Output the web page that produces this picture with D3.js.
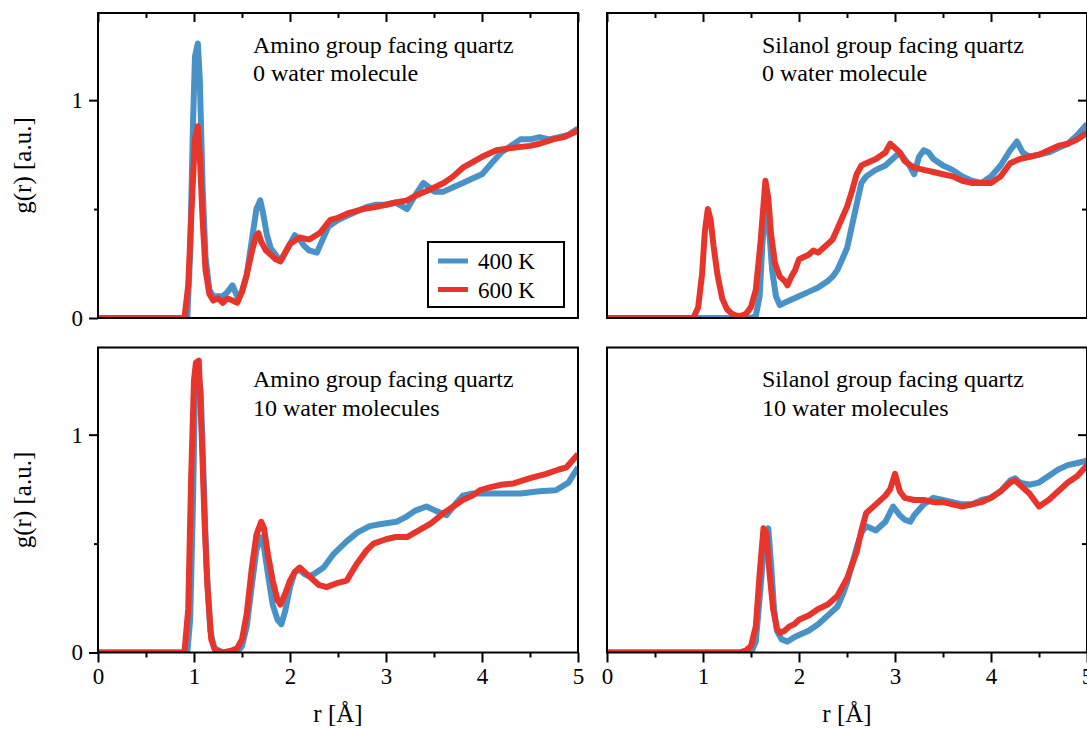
<!DOCTYPE html>
<html>
<head>
<meta charset="utf-8">
<script src="https://cdn.jsdelivr.net/npm/d3@7"></script>
<style>
  body { margin: 0; background: #fff; }
  text { font-family: "Liberation Serif", "Times New Roman", serif; fill: #000; }
</style>
</head>
<body>
<div id="chart"></div>
<script>
// g(r) curves, [r, g] pairs
var amino0_400 = [[0,0],[0.93,0],[0.96,0.3],[0.99,0.9],[1.01,1.2],[1.04,1.26],[1.06,1.1],[1.09,0.6],[1.12,0.28],[1.16,0.13],[1.2,0.1],[1.25,0.1],[1.3,0.1],[1.35,0.12],[1.4,0.15],[1.45,0.1],[1.5,0.12],[1.55,0.2],[1.6,0.35],[1.65,0.5],[1.69,0.54],[1.72,0.48],[1.76,0.38],[1.8,0.32],[1.85,0.29],[1.9,0.26],[1.95,0.3],[2.0,0.34],[2.05,0.38],[2.1,0.36],[2.15,0.33],[2.2,0.31],[2.28,0.3],[2.35,0.37],[2.4,0.42],[2.5,0.45],[2.6,0.47],[2.7,0.49],[2.8,0.51],[2.9,0.52],[3.0,0.52],[3.1,0.53],[3.22,0.5],[3.3,0.56],[3.39,0.62],[3.45,0.6],[3.5,0.58],[3.6,0.58],[3.7,0.6],[3.8,0.62],[3.9,0.64],[4.0,0.66],[4.1,0.71],[4.2,0.76],[4.3,0.79],[4.4,0.82],[4.5,0.82],[4.6,0.83],[4.7,0.82],[4.8,0.83],[4.9,0.84],[5.0,0.87]];
var amino0_600 = [[0,0],[0.9,0],[0.94,0.15],[0.98,0.55],[1.01,0.82],[1.04,0.88],[1.06,0.75],[1.09,0.45],[1.12,0.22],[1.16,0.11],[1.2,0.08],[1.25,0.09],[1.3,0.07],[1.35,0.09],[1.4,0.08],[1.45,0.07],[1.5,0.12],[1.55,0.2],[1.6,0.3],[1.64,0.37],[1.67,0.39],[1.7,0.35],[1.75,0.31],[1.8,0.29],[1.85,0.27],[1.9,0.26],[1.95,0.3],[2.0,0.34],[2.1,0.37],[2.2,0.36],[2.31,0.39],[2.42,0.45],[2.5,0.46],[2.6,0.48],[2.76,0.5],[2.9,0.51],[3.0,0.52],[3.1,0.53],[3.22,0.54],[3.3,0.56],[3.46,0.59],[3.6,0.62],[3.7,0.65],[3.8,0.69],[3.88,0.71],[4.0,0.74],[4.15,0.77],[4.3,0.78],[4.5,0.79],[4.6,0.8],[4.74,0.82],[4.85,0.83],[5.0,0.86]];

var silanol0_400 = [[0,0],[1.5,0],[1.55,0.01],[1.59,0.1],[1.62,0.35],[1.66,0.51],[1.69,0.4],[1.72,0.22],[1.76,0.1],[1.8,0.06],[1.85,0.07],[1.9,0.08],[2.0,0.1],[2.1,0.12],[2.2,0.14],[2.3,0.17],[2.35,0.19],[2.4,0.22],[2.45,0.27],[2.5,0.32],[2.55,0.42],[2.6,0.52],[2.65,0.62],[2.7,0.65],[2.8,0.68],[2.9,0.7],[3.0,0.74],[3.05,0.76],[3.1,0.73],[3.15,0.7],[3.2,0.66],[3.25,0.74],[3.3,0.77],[3.35,0.76],[3.4,0.73],[3.5,0.7],[3.6,0.68],[3.7,0.65],[3.8,0.63],[3.9,0.62],[4.0,0.65],[4.1,0.7],[4.2,0.77],[4.27,0.81],[4.33,0.76],[4.4,0.74],[4.5,0.75],[4.6,0.76],[4.7,0.78],[4.8,0.8],[4.9,0.84],[5.0,0.89]];
var silanol0_600 = [[0,0],[0.9,0],[0.95,0.05],[0.99,0.2],[1.02,0.4],[1.05,0.5],[1.08,0.45],[1.11,0.33],[1.15,0.2],[1.2,0.09],[1.25,0.04],[1.3,0.02],[1.35,0.01],[1.4,0.01],[1.45,0.02],[1.5,0.05],[1.55,0.13],[1.6,0.35],[1.65,0.63],[1.68,0.55],[1.71,0.38],[1.75,0.25],[1.8,0.19],[1.85,0.17],[1.88,0.15],[1.92,0.19],[1.96,0.22],[2.0,0.27],[2.05,0.28],[2.1,0.29],[2.15,0.31],[2.2,0.3],[2.25,0.32],[2.3,0.34],[2.35,0.36],[2.4,0.41],[2.45,0.46],[2.5,0.51],[2.55,0.58],[2.6,0.66],[2.65,0.7],[2.7,0.71],[2.8,0.73],[2.9,0.76],[2.95,0.8],[3.0,0.78],[3.05,0.76],[3.1,0.72],[3.2,0.69],[3.3,0.68],[3.4,0.67],[3.5,0.66],[3.6,0.65],[3.7,0.63],[3.8,0.62],[3.9,0.62],[4.0,0.62],[4.1,0.65],[4.2,0.71],[4.3,0.73],[4.4,0.74],[4.5,0.75],[4.6,0.77],[4.7,0.79],[4.8,0.8],[4.9,0.82],[5.0,0.85]];

var amino10_400 = [[0,0],[0.93,0],[0.96,0.15],[0.99,0.7],[1.01,1.2],[1.04,1.31],[1.07,1.2],[1.1,0.8],[1.13,0.4],[1.17,0.1],[1.21,0.02],[1.3,0.0],[1.45,0.0],[1.5,0.03],[1.55,0.12],[1.6,0.3],[1.65,0.47],[1.69,0.53],[1.73,0.48],[1.77,0.36],[1.82,0.22],[1.87,0.15],[1.91,0.13],[1.95,0.19],[2.0,0.3],[2.05,0.37],[2.1,0.38],[2.15,0.36],[2.2,0.35],[2.25,0.36],[2.35,0.39],[2.45,0.45],[2.59,0.51],[2.7,0.55],[2.83,0.58],[2.95,0.59],[3.11,0.6],[3.2,0.62],[3.3,0.65],[3.42,0.67],[3.52,0.65],[3.63,0.63],[3.72,0.68],[3.8,0.72],[3.9,0.73],[4.0,0.73],[4.2,0.73],[4.4,0.73],[4.6,0.74],[4.77,0.745],[4.9,0.78],[5.0,0.85]];
var amino10_600 = [[0,0],[0.9,0],[0.94,0.2],[0.97,0.8],[1.0,1.25],[1.02,1.33],[1.05,1.34],[1.08,1.0],[1.11,0.6],[1.14,0.3],[1.18,0.06],[1.22,0.01],[1.3,0.0],[1.4,0.01],[1.45,0.02],[1.5,0.06],[1.55,0.18],[1.6,0.38],[1.65,0.54],[1.7,0.6],[1.73,0.57],[1.77,0.45],[1.82,0.33],[1.87,0.24],[1.9,0.22],[1.95,0.27],[2.0,0.33],[2.05,0.37],[2.1,0.39],[2.15,0.37],[2.2,0.35],[2.3,0.31],[2.38,0.3],[2.5,0.32],[2.59,0.33],[2.7,0.41],[2.8,0.47],[2.87,0.5],[3.0,0.52],[3.1,0.53],[3.22,0.53],[3.3,0.55],[3.46,0.59],[3.6,0.64],[3.7,0.67],[3.8,0.7],[3.9,0.72],[3.98,0.745],[4.1,0.76],[4.2,0.77],[4.33,0.776],[4.5,0.8],[4.67,0.82],[4.8,0.84],[4.88,0.85],[5.0,0.91]];

var silanol10_400 = [[0,0],[1.5,0],[1.55,0.05],[1.6,0.3],[1.64,0.52],[1.68,0.57],[1.71,0.4],[1.74,0.2],[1.77,0.1],[1.82,0.06],[1.88,0.05],[1.95,0.07],[2.0,0.08],[2.1,0.1],[2.2,0.13],[2.3,0.17],[2.4,0.21],[2.45,0.26],[2.5,0.32],[2.55,0.4],[2.6,0.48],[2.65,0.55],[2.7,0.58],[2.8,0.56],[2.9,0.6],[2.98,0.67],[3.05,0.63],[3.1,0.61],[3.16,0.6],[3.2,0.63],[3.3,0.68],[3.4,0.71],[3.5,0.7],[3.6,0.69],[3.7,0.68],[3.8,0.68],[3.9,0.7],[4.0,0.71],[4.1,0.74],[4.2,0.79],[4.25,0.8],[4.3,0.78],[4.4,0.77],[4.5,0.78],[4.6,0.81],[4.7,0.84],[4.8,0.86],[4.9,0.87],[5.0,0.88]];
var silanol10_600 = [[0,0],[1.38,0],[1.45,0.01],[1.5,0.03],[1.55,0.12],[1.59,0.36],[1.63,0.57],[1.66,0.55],[1.69,0.38],[1.73,0.2],[1.77,0.11],[1.8,0.09],[1.85,0.1],[1.9,0.12],[1.95,0.13],[2.0,0.15],[2.1,0.17],[2.2,0.2],[2.3,0.22],[2.4,0.26],[2.45,0.3],[2.5,0.34],[2.55,0.4],[2.6,0.46],[2.65,0.56],[2.7,0.64],[2.8,0.68],[2.9,0.72],[2.95,0.75],[3.0,0.82],[3.05,0.74],[3.1,0.71],[3.2,0.7],[3.3,0.7],[3.4,0.69],[3.5,0.69],[3.6,0.68],[3.7,0.67],[3.8,0.68],[3.9,0.69],[4.0,0.71],[4.1,0.74],[4.2,0.78],[4.25,0.79],[4.3,0.77],[4.4,0.73],[4.5,0.67],[4.6,0.7],[4.7,0.74],[4.8,0.78],[4.9,0.81],[5.0,0.86]];

var seriesNames = ["400 K", "600 K"];
var seriesColors = ["#4892c7", "#e8352b"];
var xTicks = [0, 1, 2, 3, 4, 5];
var xMinor = [0.5, 1.5, 2.5, 3.5, 4.5];
var yTicks = [0, 1];
var yMinor = [0.5];

var width = 1087, height = 729;
var W = 480, H = 305;

var svg = d3.select("#chart").append("svg")
    .attr("width", width)
    .attr("height", height);

svg.append("rect").attr("width", width).attr("height", height).attr("fill", "#fff");

var panels = [
    {x: 98, y: 13, lines: ["Amino group facing quartz", "0 water molecule"], data: [amino0_400, amino0_600], col: 0, row: 0, legend: true},
    {x: 607, y: 13, lines: ["Silanol group facing quartz", "0 water molecule"], data: [silanol0_400, silanol0_600], col: 1, row: 0},
    {x: 98, y: 347.5, lines: ["Amino group facing quartz", "10 water molecules"], data: [amino10_400, amino10_600], col: 0, row: 1},
    {x: 607, y: 347.5, lines: ["Silanol group facing quartz", "10 water molecules"], data: [silanol10_400, silanol10_600], col: 1, row: 1}
];

var x = d3.scaleLinear().domain([0, 5]).range([0, W]);
var y = d3.scaleLinear().domain([0, 1.4]).range([H, 0]);

var line = d3.line()
    .x(function(d) { return x(d[0]); })
    .y(function(d) { return y(d[1]); });

function styleAxis(sel) {
    sel.select(".domain").remove();
    sel.selectAll(".tick line").attr("stroke", "#000").attr("stroke-width", 2);
    sel.selectAll(".tick text")
        .attr("font-family", "Liberation Serif, Times New Roman, serif")
        .attr("font-size", 23)
        .attr("fill", "#000");
}

panels.forEach(function(p, i) {
    var g = svg.append("g").attr("transform", "translate(" + p.x + "," + p.y + ")");

    g.append("clipPath").attr("id", "clip" + i)
      .append("rect").attr("width", W).attr("height", H);

    // curves: 400 K below, 600 K on top
    p.data.forEach(function(d, k) {
        g.append("path")
            .datum(d)
            .attr("clip-path", "url(#clip" + i + ")")
            .attr("fill", "none")
            .attr("stroke", seriesColors[k])
            .attr("stroke-width", 6)
            .attr("stroke-linejoin", "round")
            .attr("d", line);
    });

    // frame
    g.append("rect")
        .attr("width", W).attr("height", H)
        .attr("fill", "none").attr("stroke", "#000").attr("stroke-width", 2);

    // x ticks: top border inward for top row, bottom axis for bottom row
    if (p.row == 0) {
        g.append("g").call(d3.axisBottom(x).tickValues(xTicks).tickSize(9).tickFormat("")).call(styleAxis);
        g.append("g").call(d3.axisBottom(x).tickValues(xMinor).tickSize(5).tickFormat("")).call(styleAxis);
    } else {
        g.append("g").attr("transform", "translate(0," + H + ")")
            .call(d3.axisBottom(x).tickValues(xTicks).tickSize(10).tickPadding(5).tickFormat(d3.format("d")))
            .call(styleAxis);
        g.append("g").attr("transform", "translate(0," + H + ")")
            .call(d3.axisBottom(x).tickValues(xMinor).tickSize(5).tickFormat(""))
            .call(styleAxis);
        g.append("text")
            .attr("x", W / 2).attr("y", 722 - p.y)
            .attr("text-anchor", "middle")
            .attr("font-size", 25)
            .text("r [Å]");
    }

    // y ticks: left axis for left column, right border inward for right column
    if (p.col == 0) {
        g.append("g")
            .call(d3.axisLeft(y).tickValues(yTicks).tickSize(9).tickPadding(6).tickFormat(d3.format("d")))
            .call(styleAxis);
        g.append("g")
            .call(d3.axisLeft(y).tickValues(yMinor).tickSize(4).tickFormat(""))
            .call(styleAxis);
        g.append("text")
            .attr("transform", "translate(" + (31 - p.x) + "," + (H / 2) + ") rotate(-90)")
            .attr("text-anchor", "middle")
            .attr("font-size", 25)
            .text("g(r) [a.u.]");
    } else {
        g.append("g").attr("transform", "translate(" + W + ",0)")
            .call(d3.axisLeft(y).tickValues([1]).tickSize(9).tickFormat(""))
            .call(styleAxis);
        g.append("g").attr("transform", "translate(" + W + ",0)")
            .call(d3.axisLeft(y).tickValues(yMinor).tickSize(5).tickFormat(""))
            .call(styleAxis);
    }

    // panel annotation
    p.lines.forEach(function(t, j) {
        g.append("text")
            .attr("x", 155).attr("y", 39.5 + j * 28.5)
            .attr("font-size", 24)
            .text(t);
    });

    if (p.legend) {
        var lg = g.append("g").attr("transform", "translate(330,229)");
        lg.append("rect")
            .attr("width", 136).attr("height", 65)
            .attr("fill", "#fff").attr("stroke", "#000").attr("stroke-width", 2);
        seriesNames.forEach(function(n, k) {
            lg.append("line")
                .attr("x1", 10).attr("x2", 40)
                .attr("y1", 19 + k * 28.5).attr("y2", 19 + k * 28.5)
                .attr("stroke", seriesColors[k]).attr("stroke-width", 5);
            lg.append("text")
                .attr("x", 50).attr("y", 27 + k * 28.5)
                .attr("font-size", 23)
                .text(n);
        });
    }
});
</script>
</body>
</html>
